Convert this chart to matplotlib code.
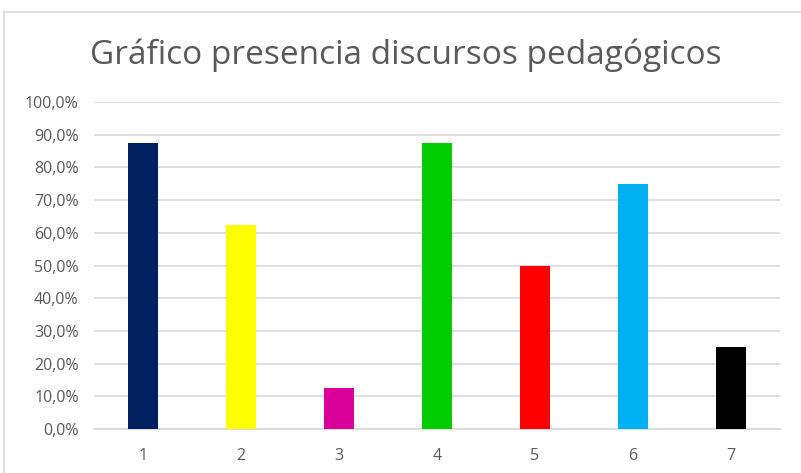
import matplotlib
matplotlib.use("Agg")
import matplotlib.pyplot as plt
from matplotlib.patches import Rectangle
from matplotlib.ticker import FuncFormatter

# Datos del gráfico
categorias = ["1", "2", "3", "4", "5", "6", "7"]
porcentajes = [87.5, 62.5, 12.5, 87.5, 50.0, 75.0, 25.0]
colores = ["#002060", "#FFFF00", "#D9009A", "#00CC00", "#FF0000", "#00B0F0", "#000000"]
titulo = "Gráfico presencia discursos pedagógicos"

plt.rcParams["font.family"] = ["Open Sans", "DejaVu Sans"]

fig = plt.figure(figsize=(8.01, 4.73), dpi=100)
ax = fig.add_axes([94 / 801, 1 - 429 / 473, (780 - 94) / 801, (429 - 102) / 473])

x = range(len(categorias))
ax.bar(x, porcentajes, width=0.315, color=colores, zorder=3)

ax.set_xlim(-0.5, len(categorias) - 0.5)
ax.set_ylim(0, 100)
ax.set_yticks(range(0, 101, 10))
ax.yaxis.set_major_formatter(FuncFormatter(lambda v, p: f"{v:.1f}%".replace(".", ",")))
ax.set_xticks(list(x))
ax.set_xticklabels(categorias)

ax.grid(axis="y", color="#D9D9D9", linewidth=1.2, zorder=0)
for s in ["top", "right", "left"]:
    ax.spines[s].set_visible(False)
ax.spines["bottom"].set_color("#D9D9D9")
ax.spines["bottom"].set_linewidth(1.2)
ax.tick_params(length=0, colors="#595959", labelsize=11.5)
ax.tick_params(axis="x", pad=14)
ax.tick_params(axis="y", pad=11)

fig.text(406 / 801, 1 - 55 / 473, titulo, ha="center", va="center",
         fontsize=24, color="#595959")

# marco del gráfico
fig.patches.append(Rectangle((4 / 801, -0.1), 1.2, 1 - 12 / 473 + 0.1,
                             transform=fig.transFigure, fill=False,
                             edgecolor="#D9D9D9", linewidth=1.2))

fig.savefig("out.png", dpi=100, facecolor="white")
